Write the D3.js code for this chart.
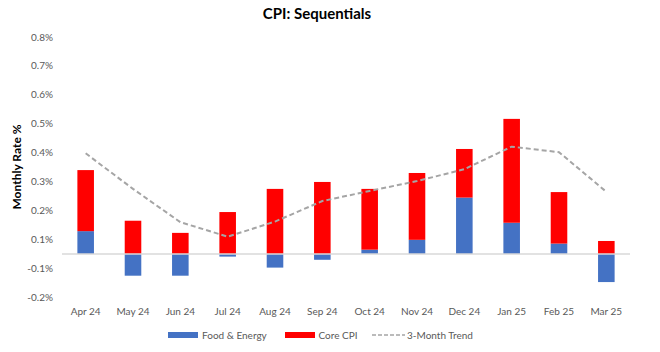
<!DOCTYPE html>
<html>
<head>
<meta charset="utf-8">
<style>
  body { margin: 0; background: #fff; }
  svg { display: block; font-family: Lato, "Open Sans", sans-serif; }
</style>
</head>
<body>
<svg id="chart"></svg>

<script src="https://cdn.jsdelivr.net/npm/d3@7/dist/d3.min.js"></script>

<script>
  // values in percent
  var months = ["Apr 24","May 24","Jun 24","Jul 24","Aug 24","Sep 24","Oct 24","Nov 24","Dec 24","Jan 25","Feb 25","Mar 25"];
  var foodEnergy = [0.079, -0.075, -0.075, -0.009, -0.047, -0.020, 0.015, 0.049, 0.195, 0.108, 0.036, -0.097];
  var coreCPI = [0.211, 0.115, 0.073, 0.145, 0.225, 0.249, 0.210, 0.231, 0.168, 0.359, 0.178, 0.045];
  var trend = [0.348, 0.225, 0.110, 0.060, 0.112, 0.183, 0.218, 0.252, 0.293, 0.371, 0.352, 0.215];

  // axis ticks sit at half steps, labelled rounded (as in the source)
  var tickValues = [-0.15, -0.05, 0.05, 0.15, 0.25, 0.35, 0.45, 0.55, 0.65, 0.75];
  var tickLabels = ["-0.2%","-0.1%","0.1%","0.2%","0.3%","0.4%","0.5%","0.6%","0.7%","0.8%"];

  var width = 660, height = 352;
  var blue = "#4472c4", red = "#ff0000", grey = "#a5a5a5", textGrey = "#595959";

  var svg = d3.select("#chart").attr("width", width).attr("height", height);

  var x = d3.scaleBand().domain(months).range([62, 630]).paddingInner(0.65).paddingOuter(0.325);
  var y = d3.scaleLinear().domain([-0.15, 0.75]).range([297.4, 37]);

  var rows = months.map(function(m, i) { return {month: m, fe: foodEnergy[i], core: coreCPI[i]}; });
  var stack = d3.stack().keys(["fe", "core"]).offset(d3.stackOffsetDiverging);
  var series = stack(rows);
  var colors = {fe: blue, core: red};

  // title
  svg.append("text")
    .attr("x", 317).attr("y", 19)
    .attr("text-anchor", "middle")
    .attr("font-size", 15).attr("font-weight", "bold").attr("fill", "#000")
    .text("CPI: Sequentials");

  // y axis title
  svg.append("text")
    .attr("transform", "translate(21,167) rotate(-90)")
    .attr("text-anchor", "middle")
    .attr("font-size", 12).attr("font-weight", "bold").attr("fill", "#000")
    .text("Monthly Rate %");

  // y tick labels
  svg.append("g").selectAll("text")
    .data(tickValues)
    .join("text")
    .attr("x", 53)
    .attr("y", function(d) { return y(d); })
    .attr("dy", "0.35em")
    .attr("text-anchor", "end")
    .attr("font-size", 10).attr("fill", textGrey)
    .text(function(d, i) { return tickLabels[i]; });

  // bars
  svg.append("g").selectAll("g")
    .data(series)
    .join("g")
    .attr("fill", function(s) { return colors[s.key]; })
    .selectAll("rect")
    .data(function(s) { return s; })
    .join("rect")
    .attr("x", function(d) { return x(d.data.month); })
    .attr("width", x.bandwidth())
    .attr("y", function(d) { return y(Math.max(d[0], d[1])); })
    .attr("height", function(d) { return Math.abs(y(d[0]) - y(d[1])); });

  // zero line
  svg.append("line")
    .attr("x1", 62).attr("x2", 630)
    .attr("y1", y(0)).attr("y2", y(0))
    .attr("stroke", "#d9d9d9").attr("stroke-width", 1.3);

  // 3-month trend
  var line = d3.line()
    .x(function(d, i) { return x(months[i]) + x.bandwidth() / 2; })
    .y(function(d) { return y(d); });

  svg.append("path")
    .datum(trend)
    .attr("d", line)
    .attr("fill", "none")
    .attr("stroke", grey)
    .attr("stroke-width", 2)
    .attr("stroke-dasharray", "5,3");

  // x labels
  svg.append("g").selectAll("text")
    .data(months)
    .join("text")
    .attr("x", function(d) { return x(d) + x.bandwidth() / 2; })
    .attr("y", 315)
    .attr("text-anchor", "middle")
    .attr("font-size", 10).attr("fill", textGrey)
    .text(function(d) { return d; });

  // legend
  var legend = svg.append("g").attr("font-size", 10).attr("fill", textGrey);
  legend.append("rect").attr("x", 168).attr("y", 332).attr("width", 30).attr("height", 6).attr("fill", blue);
  legend.append("text").attr("x", 202).attr("y", 338.5).text("Food & Energy");
  legend.append("rect").attr("x", 285).attr("y", 332).attr("width", 30).attr("height", 6).attr("fill", red);
  legend.append("text").attr("x", 318.5).attr("y", 338.5).text("Core CPI");
  legend.append("line").attr("x1", 372).attr("x2", 405).attr("y1", 335).attr("y2", 335)
    .attr("stroke", grey).attr("stroke-width", 1.5).attr("stroke-dasharray", "4,2");
  legend.append("text").attr("x", 407).attr("y", 338.5).text("3-Month Trend");
</script>
</body>
</html>
